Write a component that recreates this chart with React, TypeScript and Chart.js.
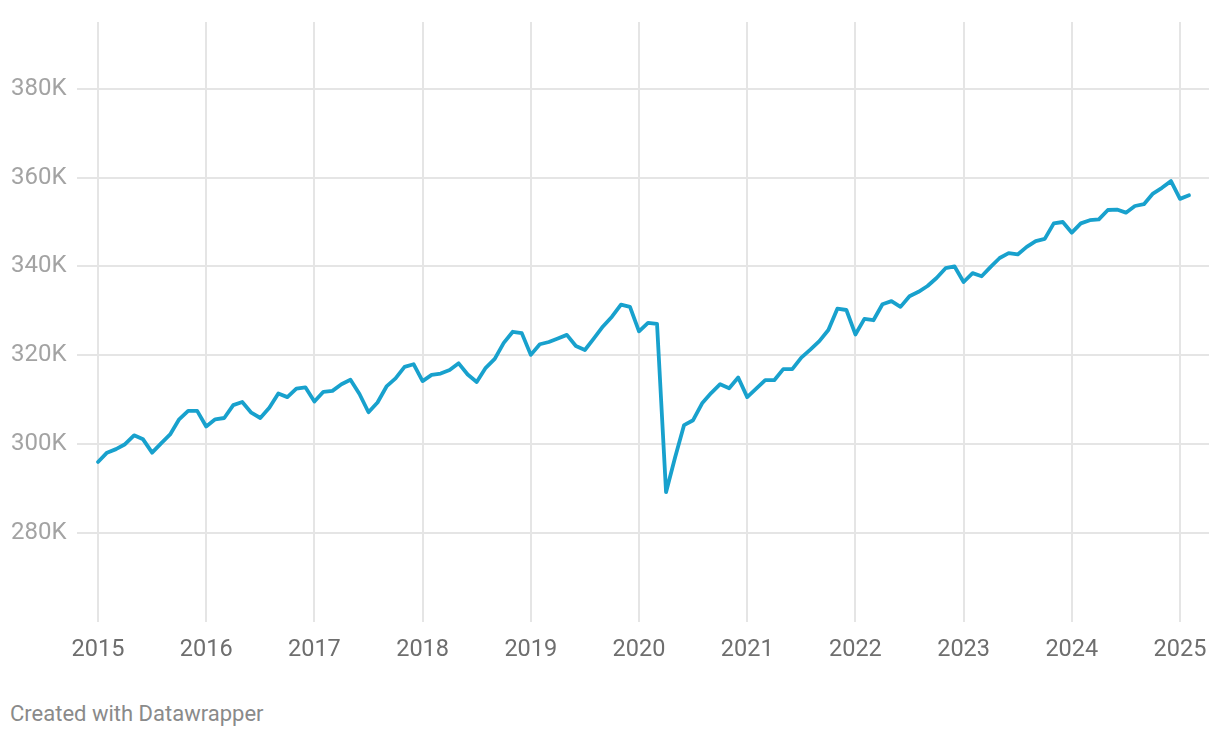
import React, { useEffect, useRef } from "react";
import { Chart, registerables } from "chart.js";

Chart.register(...registerables);

// Monthly values (thousands), Jan 2015 – Feb 2025
const values2015 = [296.0, 298.1, 298.9, 300.0, 302.0, 301.1, 298.1, 300.2, 302.2, 305.6, 307.5, 307.5];
const values2016 = [304.0, 305.6, 305.9, 308.8, 309.5, 307.1, 305.9, 308.2, 311.4, 310.6, 312.5, 312.8];
const values2017 = [309.6, 311.8, 312.0, 313.5, 314.5, 311.3, 307.2, 309.4, 313.0, 314.8, 317.4, 318.0];
const values2018 = [314.2, 315.6, 315.9, 316.7, 318.2, 315.7, 314.0, 317.2, 319.2, 322.8, 325.3, 325.0];
const values2019 = [320.1, 322.5, 323.0, 323.8, 324.6, 322.1, 321.2, 323.8, 326.5, 328.7, 331.4, 330.9];
const values2020 = [325.4, 327.3, 327.1, 289.2, 297.0, 304.3, 305.4, 309.2, 311.5, 313.5, 312.6, 315.0];
const values2021 = [310.6, 312.5, 314.4, 314.4, 316.9, 316.9, 319.5, 321.3, 323.2, 325.7, 330.5, 330.2];
const values2022 = [324.7, 328.2, 327.9, 331.5, 332.2, 330.9, 333.3, 334.3, 335.6, 337.4, 339.6, 340.0];
const values2023 = [336.5, 338.5, 337.8, 339.9, 341.9, 343.0, 342.7, 344.4, 345.7, 346.2, 349.7, 350.0];
const values2024 = [347.6, 349.7, 350.4, 350.6, 352.7, 352.8, 352.1, 353.6, 354.0, 356.4, 357.7, 359.2];
const values2025 = [355.2, 356.0];

const seriesYears = [2015, 2016, 2017, 2018, 2019, 2020, 2021, 2022, 2023, 2024, 2025];
const seriesValues = [
  values2015, values2016, values2017, values2018, values2019, values2020,
  values2021, values2022, values2023, values2024, values2025,
];

const xTicks = [2015, 2016, 2017, 2018, 2019, 2020, 2021, 2022, 2023, 2024, 2025];
const yTicks = [280, 300, 320, 340, 360, 380];

const FONT = "Roboto, 'Noto Sans', sans-serif";

const zeroPadding = (s: any) => {
  s.paddingTop = 0;
  s.paddingBottom = 0;
  s.paddingLeft = 0;
  s.paddingRight = 0;
};

export default function App() {
  const ref = useRef<HTMLCanvasElement | null>(null);

  useEffect(() => {
    if (!ref.current) return;
    const points: { x: number; y: number }[] = [];
    seriesYears.forEach((yr, yi) => {
      seriesValues[yi].forEach((v, m) => points.push({ x: yr + m / 12, y: v }));
    });

    const chart = new Chart(ref.current, {
      type: "line",
      data: {
        datasets: [
          {
            data: points,
            borderColor: "#18a1cd",
            borderWidth: 3.8,
            pointRadius: 0,
            tension: 0,
            borderJoinStyle: "round",
            borderCapStyle: "round",
          },
        ],
      },
      options: {
        animation: false,
        responsive: false,
        maintainAspectRatio: false,
        layout: { padding: { top: 14, left: 3, right: 3, bottom: 0 } },
        plugins: { legend: { display: false }, tooltip: { enabled: false } },
        scales: {
          x: {
            type: "linear",
            min: 2014.806,
            max: 2025.268,
            afterBuildTicks: (s: any) => {
              s.ticks = xTicks.map((v) => ({ value: v }));
            },
            afterFit: (s: any) => {
              s.height = 58;
              zeroPadding(s);
            },
            grid: { color: "#e5e5e5", lineWidth: 2, drawTicks: false },
            border: { display: false },
            ticks: {
              color: "#6e6e6e",
              font: { family: FONT, size: 23.5 },
              padding: 14,
              maxRotation: 0,
              autoSkip: false,
              callback: (v: any) => String(v),
            },
          },
          y: {
            min: 260,
            max: 395,
            afterBuildTicks: (s: any) => {
              s.ticks = yTicks.map((v) => ({ value: v }));
            },
            afterFit: (s: any) => {
              s.width = 66;
              zeroPadding(s);
            },
            grid: { color: "#e5e5e5", lineWidth: 2, drawTicks: false },
            border: { display: false },
            ticks: {
              color: "#a3a3a3",
              font: { family: FONT, size: 24 },
              crossAlign: "far",
              padding: 10,
              callback: (v: any) => v + "K",
            },
          },
        },
      },
    });
    return () => chart.destroy();
  }, []);

  return (
    <div style={{ position: "relative", width: 1204, height: 722 }}>
      <canvas ref={ref} width={1204} height={672} style={{ display: "block" }} />
      <div
        style={{
          position: "absolute",
          left: 2,
          top: 694,
          fontFamily: FONT,
          fontSize: 22,
          color: "#8a8a8a",
          lineHeight: "24px",
          whiteSpace: "nowrap",
        }}
      >
        Created with Datawrapper
      </div>
    </div>
  );
}
